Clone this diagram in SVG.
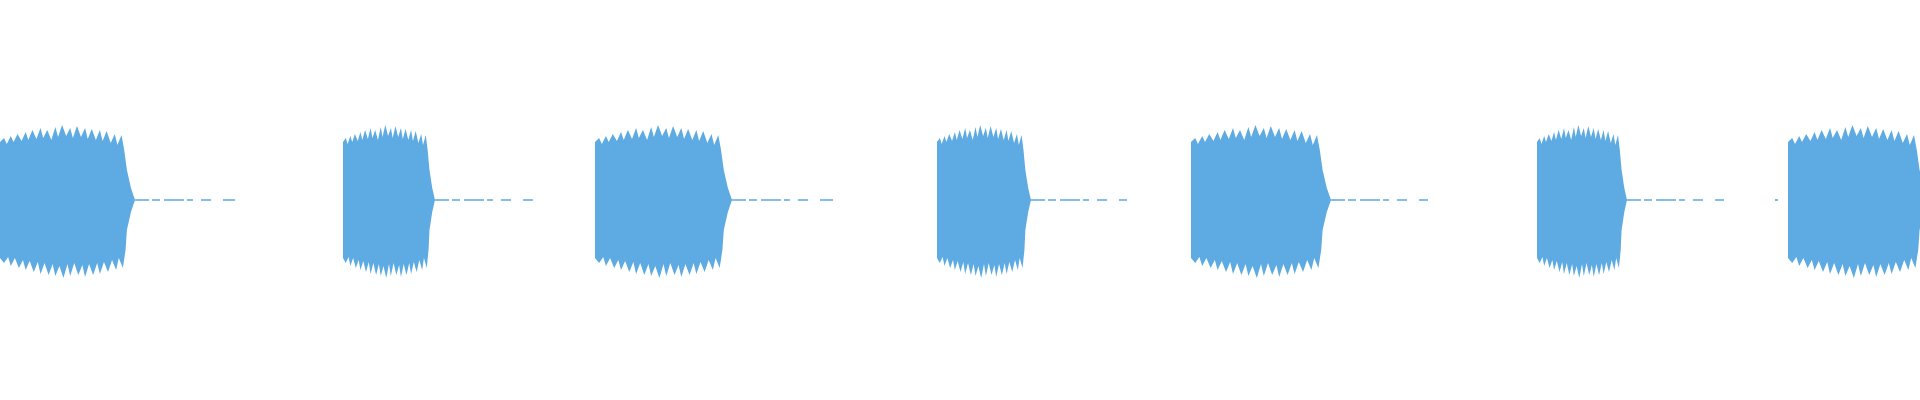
<svg xmlns="http://www.w3.org/2000/svg" width="1920" height="400" viewBox="0 0 1920 400">
<style>.b{fill:#5dabe2}.t{stroke:#5dabe2;stroke-width:1.6;fill:none;stroke-dasharray:14 3 8 4 20 3 6 8 10 12}</style>
<defs>
<path id="burst" d="M0,-58 L3,-62 L5,-56 L8,-64 L10,-58 L13,-66 L16,-59 L19,-68 L21,-60 L24,-70 L27,-61 L30,-72 L32,-62 L35,-70 L38,-60 L41,-73 L43,-63 L46,-75 L49,-64 L52,-72 L54,-62 L57,-74 L60,-63 L63,-72 L65,-61 L68,-71 L71,-60 L74,-70 L76,-59 L79,-69 L82,-57 L85,-66 L87,-55 L90,-65 L92,-50 L94,-30 L97,-12 L100,0 L97,12 L94,30 L93,50 L91,68 L88,58 L86,70 L83,60 L80,72 L77,62 L74,74 L72,63 L69,75 L66,64 L63,77 L61,65 L58,75 L55,63 L52,76 L50,64 L47,78 L44,66 L41,76 L39,64 L36,75 L33,63 L30,74 L28,62 L25,72 L22,61 L19,70 L17,60 L14,68 L11,58 L8,66 L6,57 L3,63 L0,58 Z"/>
</defs>
<g id="bursts" class="b">
<use href="#burst" transform="translate(0,200) scale(1.35,1)"/>
<use href="#burst" transform="translate(343,200) scale(0.92,1)"/>
<use href="#burst" transform="translate(595,200) scale(1.37,1)"/>
<use href="#burst" transform="translate(937,200) scale(0.94,1)"/>
<use href="#burst" transform="translate(1191,200) scale(1.4,1)"/>
<use href="#burst" transform="translate(1537,200) scale(0.9,1)"/>
<use href="#burst" transform="translate(1788,200) scale(1.4,1)"/>
</g>
<g id="tails" class="t">
<path d="M135,200 H235"/>
<path d="M435,200 H533"/>
<path d="M732,200 H833"/>
<path d="M1031,200 H1127"/>
<path d="M1331,200 H1428"/>
<path d="M1627,200 H1724"/>
<path d="M1775,200 H1778"/>
</g>
</svg>
